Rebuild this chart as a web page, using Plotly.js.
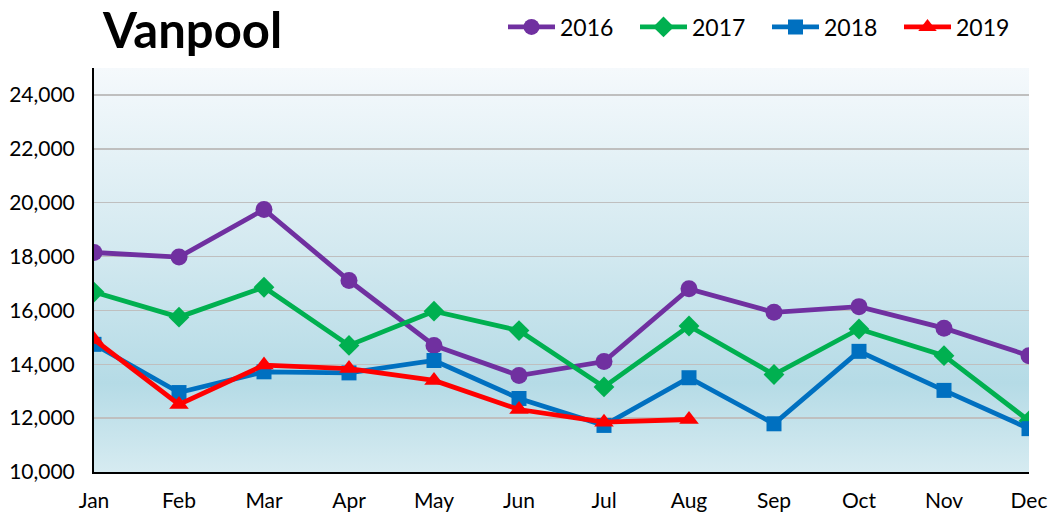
<!DOCTYPE html>
<html>
<head>
<meta charset="utf-8">
<script src="https://cdn.plot.ly/plotly-3.0.1.min.js"></script>
<style>
html,body{margin:0;padding:0;background:#fff;}
#chart{width:1055px;height:513px;}
</style>
</head>
<body>
<div id="chart"></div>
<script>
const months = ["Jan","Feb","Mar","Apr","May","Jun","Jul","Aug","Sep","Oct","Nov","Dec"];
const v2016 = [18150, 17980, 19750, 17110, 14700, 13580, 14100, 16800, 15930, 16140, 15340, 14320];
const v2017 = [16680, 15750, 16860, 14700, 15970, 15250, 13160, 15420, 13620, 15310, 14320, 11900];
const v2018 = [14740, 12950, 13720, 13680, 14140, 12730, 11730, 13500, 11790, 14480, 13030, 11610];
const v2019 = [14920, 12510, 13970, 13840, 13400, 12320, 11850, 11950];
const yTicks = [10000, 12000, 14000, 16000, 18000, 20000, 22000, 24000];

const font = "Lato, 'Open Sans', sans-serif";

function tr(name, y, color, symbol, size) {
  return {
    type: "scatter", mode: "lines+markers", name: name,
    x: months.slice(0, y.length), y: y,
    line: {color: color, width: 4.8},
    marker: {color: color, symbol: symbol, size: size, line: {width: 0}}
  };
}

const data = [
  tr("2016", v2016, "#7030A0", "circle", 17),
  tr("2017", v2017, "#00B050", "diamond", 16),
  tr("2018", v2018, "#0070C0", "square", 15),
  tr("2019", v2019, "#FF0000", "triangle-up", 17)
];

const grad = 'data:image/svg+xml;utf8,' + encodeURIComponent(
  '<svg xmlns="http://www.w3.org/2000/svg" width="100" height="100" preserveAspectRatio="none">' +
  '<defs><linearGradient id="g" x1="0" y1="0" x2="0" y2="1">' +
  '<stop offset="0" stop-color="#f5f9fc"/>' +
  '<stop offset="0.45" stop-color="#d3e9f0"/>' +
  '<stop offset="0.78" stop-color="#b5dbe6"/>' +
  '<stop offset="1" stop-color="#d6ebf1"/>' +
  '</linearGradient></defs><rect width="100" height="100" fill="url(#g)"/></svg>');

const layout = {
  width: 1055, height: 513,
  margin: {l: 94, r: 26, t: 68, b: 41},
  paper_bgcolor: "#ffffff",
  plot_bgcolor: "rgba(0,0,0,0)",
  font: {family: font, color: "#000", size: 20},
  title: {
    text: "<b>Vanpool</b>",
    font: {family: font, size: 49, color: "#000"},
    x: 103 / 1055, xref: "container", xanchor: "left",
    y: 0.94, yanchor: "middle"
  },
  showlegend: true,
  legend: {
    orientation: "h", x: 503 / 1055, xanchor: "left", y: 1 - 27 / 513, yanchor: "middle",
    xref: "container", yref: "container",
    font: {family: font, size: 23, color: "#000"},
    itemwidth: 47, entrywidth: 70, entrywidthmode: "pixels",
    bgcolor: "rgba(0,0,0,0)", tracegroupgap: 0
  },
  xaxis: {
    type: "category", categoryarray: months, categoryorder: "array",
    range: [0, 11],
    showgrid: false, zeroline: false,
    showline: true, linecolor: "#000", linewidth: 2,
    ticks: "", tickfont: {family: font, size: 21, color: "#000"},
    ticklabelstandoff: 9
  },
  yaxis: {
    range: [10000, 25000],
    tickvals: yTicks, tickformat: ",d",
    showgrid: true, gridcolor: "#bfbfbf", gridwidth: 1.5,
    zeroline: false,
    showline: true, linecolor: "#000", linewidth: 2,
    ticks: "", tickfont: {family: font, size: 21, color: "#000"},
    ticklabelstandoff: 13
  },
  images: [{
    source: grad, xref: "paper", yref: "paper",
    x: 0, y: 1, sizex: 1, sizey: 1, xanchor: "left", yanchor: "top",
    sizing: "stretch", layer: "below"
  }]
};

Plotly.newPlot("chart", data, layout, {displayModeBar: false, staticPlot: true});
</script>
</body>
</html>
